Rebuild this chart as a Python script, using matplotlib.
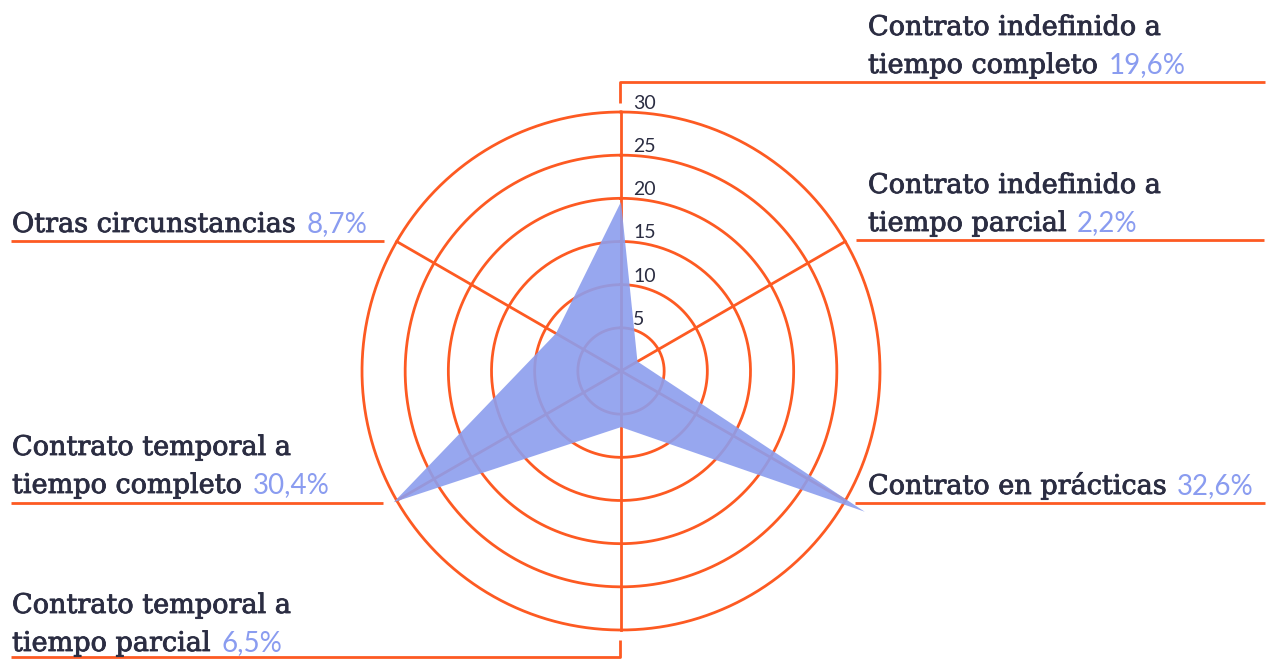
import numpy as np
import matplotlib
matplotlib.use("Agg")
import matplotlib.pyplot as plt
from matplotlib.lines import Line2D
import matplotlib.patheffects as pe

# ---- data ----
categories = [
    "Contrato indefinido a\ntiempo completo",
    "Contrato indefinido a\ntiempo parcial",
    "Contrato en prácticas",
    "Contrato temporal a\ntiempo parcial",
    "Contrato temporal a\ntiempo completo",
    "Otras circunstancias",
]
values = [19.6, 2.2, 32.6, 6.5, 30.4, 8.7]
value_labels = ["19,6%", "2,2%", "32,6%", "6,5%", "30,4%", "8,7%"]
ring_ticks = [5, 10, 15, 20, 25, 30]

# ---- style ----
ORANGE = "#fd5a22"
DARK = "#2b2d42"
BLUE = "#8a9cf0"
FILL = "#8c9eee"
W, H = 1271, 659

fig = plt.figure(figsize=(W / 100, H / 100), dpi=100)

cx, cy, R = 621, 371, 259  # pixel centre / radius of outer ring (from top)
ax = fig.add_axes([(cx - R) / W, (H - cy - R) / H, 2 * R / W, 2 * R / H],
                  projection="polar")
ax.set_theta_zero_location("N")
ax.set_theta_direction(-1)
ax.set_ylim(0, max(ring_ticks))
ax.set_axis_off()

n = len(categories)
theta = np.arange(n) * 2 * np.pi / n

# rings
circ = np.linspace(0, 2 * np.pi, 400)
for v in ring_ticks:
    ax.plot(circ, np.full_like(circ, v), color=ORANGE, lw=2.0, zorder=1,
            clip_on=False)
# spokes
for t in theta:
    ax.plot([t, t], [0, max(ring_ticks)], color=ORANGE, lw=2.0, zorder=1,
            clip_on=False)

# data polygon
th_c = np.concatenate([theta, theta[:1]])
v_c = np.concatenate([values, values[:1]])
ax.fill(th_c, v_c, color=FILL, alpha=0.9, lw=0, zorder=3, clip_on=False)

# ring labels
for v in ring_ticks:
    ax.annotate(str(v), xy=(0, v), xytext=(12, 3), textcoords="offset pixels",
                ha="left", va="baseline", fontsize=14, color=DARK,
                family="Lato", zorder=5, annotation_clip=False)


def fx(x):
    return x / W


def fy(y):
    return 1 - y / H


def line(xs, ys):
    fig.add_artist(Line2D([fx(x) for x in xs], [fy(y) for y in ys],
                          color=ORANGE, lw=2.0, transform=fig.transFigure,
                          solid_capstyle="butt"))


# leader lines (layout)
line([620, 620, 1265], [103, 82, 82])
line([856, 1264], [240, 240])
line([855, 1265], [503, 503])
line([620, 620, 11], [640, 657, 657])
line([11, 383], [503, 503])
line([11, 384], [241, 241])

# label layout: (x, baseline of last line) in pixels
label_pos = [(868, 73), (868, 231), (868, 494), (12, 651), (12, 493), (12, 232)]
LINE_GAP = 38
thick = [pe.withStroke(linewidth=0.6, foreground=DARK)]

fig.canvas.draw()
for cat, pct, (x, yb) in zip(categories, value_labels, label_pos):
    lines = cat.split("\n")
    last = None
    for i, ln in enumerate(lines):
        yy = yb - (len(lines) - 1 - i) * LINE_GAP
        last = fig.text(fx(x), fy(yy), ln, ha="left", va="baseline",
                        fontsize=19.5, color=DARK, family="DejaVu Serif",
                        path_effects=thick)
    bb = last.get_window_extent(renderer=fig.canvas.get_renderer())
    fig.text((bb.x1 + 10) / W, fy(yy), pct, ha="left", va="baseline",
             fontsize=20, color=BLUE, family="Lato")

fig.savefig("out.png", dpi=100)
